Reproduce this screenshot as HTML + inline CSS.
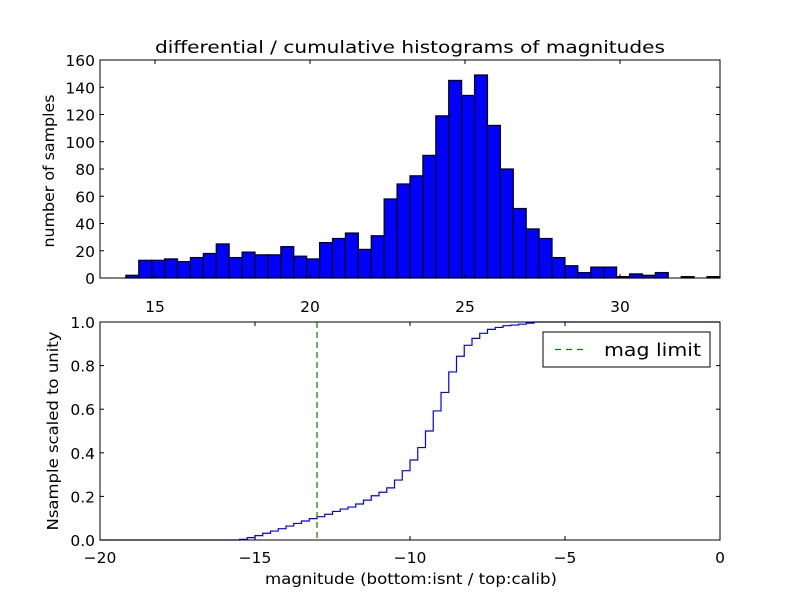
<!DOCTYPE html>
<html><head><meta charset="utf-8"><style>
html,body{margin:0;padding:0;background:#fff}
svg{display:block;font-family:"DejaVu Sans","Liberation Sans",sans-serif}
</style></head><body>
<svg id="fig" width="800" height="600" viewBox="0 0 800 600">
<rect width="800" height="600" fill="#fff"/>
<text x="410" y="53" font-size="17" text-anchor="middle" textLength="510" lengthAdjust="spacingAndGlyphs">differential / cumulative histograms of magnitudes</text>
<text transform="translate(54,171) rotate(-90)" font-size="15" text-anchor="middle" textLength="153" lengthAdjust="spacingAndGlyphs">number of samples</text>
<text transform="translate(58,431) rotate(-90)" font-size="15" text-anchor="middle" textLength="199" lengthAdjust="spacingAndGlyphs">Nsample scaled to unity</text>
<text x="411" y="584" font-size="15" text-anchor="middle" textLength="292" lengthAdjust="spacingAndGlyphs">magnitude (bottom:isnt / top:calib)</text>
<g id="topPanel"></g>
<g id="botPanel"></g>
</svg>
<script>
// Top histogram data
const histStart = 14.06;
const histBinWidth = 0.4166;
const histCounts = [2,13,13,14,12,15,18,25,15,19,17,17,23,16,14,26,29,33,21,31,58,69,75,90,119,145,134,149,112,80,51,36,29,15,9,4,8,8,1,3,2,4,0,1,0,1];
const topXTicks = [15,20,25,30];
const topYTicks = [0,20,40,60,80,100,120,140,160];
// Bottom cumulative data
const cumStart = -15.5;
const cumStep = 0.25;
const cumValues = [0.003,0.011,0.020,0.031,0.041,0.052,0.064,0.076,0.087,0.098,0.107,0.118,0.131,0.142,0.151,0.165,0.183,0.203,0.219,0.239,0.275,0.318,0.367,0.424,0.5,0.592,0.677,0.771,0.843,0.893,0.925,0.948,0.966,0.975,0.983,0.986,0.99,0.995,1.0];
const botXTicks = [-20,-15,-10,-5,0];
const botYTicks = [0.0,0.2,0.4,0.6,0.8,1.0];
const magLimit = -13;

const NS = "http://www.w3.org/2000/svg";
function mk(parent, tag, attrs, text){
  const e = document.createElementNS(NS, tag);
  for (const k in attrs) e.setAttribute(k, attrs[k]);
  if (text !== undefined) e.textContent = text;
  parent.appendChild(e);
  return e;
}
const L = 100, R = 720;
// top axes
const tT = 60, tB = 278, txMin = 13.226, txMax = 33.226, tyMax = 160;
const tx = v => L + (v - txMin) / (txMax - txMin) * (R - L);
const ty = v => tB - v / tyMax * (tB - tT);
const topG = document.getElementById('topPanel');
histCounts.forEach((c, i) => {
  const x0 = tx(histStart + i * histBinWidth), x1 = tx(histStart + (i + 1) * histBinWidth);
  const r = mk(topG, 'rect', {x: x0, y: ty(c), width: x1 - x0, height: tB - ty(c), fill: '#0000ff', stroke: '#000', 'stroke-width': 1.2});
  
  
});
const tFrame = mk(topG, 'rect', {x: L, y: tT, width: R - L, height: tB - tT, fill: 'none', stroke: '#000', 'stroke-width': 1});


topXTicks.forEach(v => {
  const x = tx(v);
  mk(topG, 'line', {x1: x, y1: tB, x2: x, y2: tB - 4, stroke: '#000'});
  mk(topG, 'line', {x1: x, y1: tT, x2: x, y2: tT + 4, stroke: '#000'});
  const t = mk(topG, 'text', {x: x, y: tB + 34, 'font-size': 15.5, 'text-anchor': 'middle'}, String(v));
  
  
});
topYTicks.forEach(v => {
  const y = ty(v);
  mk(topG, 'line', {x1: L, y1: y, x2: L + 4, y2: y, stroke: '#000'});
  mk(topG, 'line', {x1: R, y1: y, x2: R - 4, y2: y, stroke: '#000'});
  const t = mk(topG, 'text', {x: L - 5, y: y + 6, 'font-size': 15.5, 'text-anchor': 'end'}, String(v));
  
  
});
// bottom axes
const bT = 322, bB = 540, bxMin = -20, bxMax = 0;
const bx = v => L + (v - bxMin) / (bxMax - bxMin) * (R - L);
const by = v => bB - v * (bB - bT);
const botG = document.getElementById('botPanel');
let d = `M${bx(bxMin)},${by(0)} L${bx(cumStart)},${by(0)}`;
cumValues.forEach((v, i) => {
  const x0 = bx(cumStart + i * cumStep);
  d += ` L${x0},${by(v)} L${bx(cumStart + (i + 1) * cumStep)},${by(v)}`;
});
d += ` L${bx(bxMax)},${by(cumValues[cumValues.length - 1])}`;
const line = mk(botG, 'path', {d: d, fill: 'none', stroke: '#0000ff', 'stroke-width': 1.2});


const ml = mk(botG, 'line', {x1: bx(magLimit), y1: bT, x2: bx(magLimit), y2: bB, stroke: '#008000', 'stroke-width': 1.2, 'stroke-dasharray': '6,4'});


const bFrame = mk(botG, 'rect', {x: L, y: bT, width: R - L, height: bB - bT, fill: 'none', stroke: '#000', 'stroke-width': 1});


botXTicks.forEach(v => {
  const x = bx(v);
  mk(botG, 'line', {x1: x, y1: bB, x2: x, y2: bB - 4, stroke: '#000'});
  mk(botG, 'line', {x1: x, y1: bT, x2: x, y2: bT + 4, stroke: '#000'});
  const t = mk(botG, 'text', {x: x, y: bB + 23, 'font-size': 15.5, 'text-anchor': 'middle'}, v < 0 ? '\u2212' + Math.abs(v) : String(v));
  
  
});
botYTicks.forEach(v => {
  const y = by(v);
  mk(botG, 'line', {x1: L, y1: y, x2: L + 4, y2: y, stroke: '#000'});
  mk(botG, 'line', {x1: R, y1: y, x2: R - 4, y2: y, stroke: '#000'});
  const t = mk(botG, 'text', {x: L - 5, y: y + 6, 'font-size': 15.5, 'text-anchor': 'end'}, v.toFixed(1));
  
  
});
// legend
const lg = mk(botG, 'g', {});


mk(lg, 'rect', {x: 543, y: 332, width: 167, height: 35, fill: '#fff', stroke: '#000', 'stroke-width': 1});
mk(lg, 'line', {x1: 555, y1: 349.5, x2: 586, y2: 349.5, stroke: '#008000', 'stroke-width': 1.2, 'stroke-dasharray': '6,5'});
const lt = mk(lg, 'text', {x: 604, y: 356, 'font-size': 18, textLength: 97, lengthAdjust: 'spacingAndGlyphs'}, 'mag limit');


</script>
</body></html>
